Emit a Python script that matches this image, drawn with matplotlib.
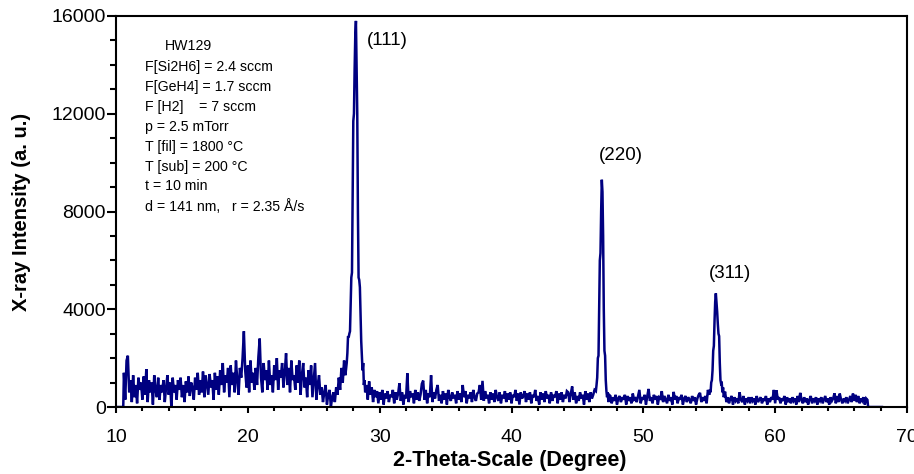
import numpy as np
import matplotlib
matplotlib.use("Agg")
import matplotlib.pyplot as plt
from matplotlib.ticker import MultipleLocator

plt.rcParams['font.family'] = ['Liberation Sans', 'DejaVu Sans']

# ---------------- data ----------------
lead_theta = [10.0, 10.55]
lead_counts = [0, 0]

seg1_start = 10.6   # step 0.1
seg1_counts = [
    1400, 300, 1900, 2100, 600, 1100, 200, 1300, 400, 900,
    150, 1200, 700, 1000, 300, 1250, 500, 1550, 200, 1100,
    600, 1000, 100, 1300, 700, 400, 1200, 300, 900, 600,
    1100, 200, 800, 1300, 500, 1000, 0, 1200, 600, 900,
    300, 1100, 700, 1200, 400, 900, 200, 1050, 600, 1250,
    450, 1000, 800, 300, 1200, 700, 1400, 500, 1100, 600,
    1450, 400, 1300, 900, 500, 1350, 800, 1100, 300, 1400,
    700, 1250, 500, 1500, 900, 1800, 600, 1300, 1000, 1600,
    400, 1700, 900, 1400, 600, 1900, 1100, 500, 1600, 1200,
    2000, 3100, 1500, 800, 1700, 600, 1900, 1000, 1400, 700,
    1600, 900, 2050, 2800, 1200, 600, 1800, 1100, 1500, 700,
    1900, 900, 1300, 600, 1700, 1100, 2000, 700, 1500, 1200,
    1800, 800, 1400, 2200, 900, 1600, 600, 1900, 1100, 1300,
    700, 1700, 1000, 1900, 500, 1300, 1800, 800, 1200, 400,
    1500, 900, 1700, 400, 1100, 1800, 300, 900, 1300, 500,
    800, 200, 600, 900, 100, 500, 700, 0, 400, 600,
    200, 800, 500, 1200, 700, 1600, 1000, 1900, 1300, 1800,
]

peak111_theta = [27.55, 27.60, 27.65, 27.70, 27.75, 27.80, 27.85, 27.90, 27.95,
                 28.00, 28.05, 28.10, 28.15, 28.20, 28.25, 28.30, 28.35, 28.40,
                 28.45, 28.50, 28.55, 28.60, 28.65, 28.70, 28.75, 28.80, 28.85, 28.90]
peak111_counts = [2200, 2900, 2850, 3000, 3100, 4200, 5300, 5500, 8500,
                  11700, 12000, 13800, 15200, 15800, 14000, 12000, 8000, 5300,
                  5200, 4900, 3800, 2700, 2100, 1500, 1800, 900, 1100, 600]

seg2_start = 29.0   # step 0.1
seg2_counts = [
    900, 300, 1050, 500, 800, 200, 700, 400, 650, 150,
    600, 300, 700, 100, 550, 350, 650, 200, 500, 400,
    700, 150, 600, 300, 550, 970, 250, 600, 100, 500,
    350, 1380, 200, 650, 400, 550, 150, 700, 300, 600,
    250, 500, 950, 1080, 300, 700, 150, 550, 400, 1300,
    200, 600, 350, 700, 900, 250, 500, 150, 650, 300,
    550, 100, 700, 400, 250, 600, 350, 500, 150, 650,
    300, 550, 200, 900, 400, 650, 150, 500, 350, 600,
    200, 700, 400, 250, 550, 600, 900, 300, 1070, 250,
    650, 350, 500, 150, 600, 300, 550, 200, 700, 400,
    250, 600, 150, 500, 350, 650, 200, 550, 300, 600,
    150, 500, 400, 700, 250, 550, 100, 600, 350, 450,
    650, 200, 550, 300, 600, 150, 500, 400, 700, 250,
    450, 100, 600, 300, 550, 200, 650, 350, 500, 150,
    600, 250, 500, 400, 650, 150, 550, 300, 600, 200,
    500, 350, 650, 600, 200, 550, 840, 300, 600, 150,
    450, 250, 600, 350, 500, 100, 650, 300, 550, 200,
    600, 350, 500, 700, 650,
]

peak220_theta = [46.45, 46.50, 46.55, 46.60, 46.65, 46.70, 46.75, 46.80, 46.85,
                 46.90, 46.95, 47.00, 47.05, 47.10, 47.15, 47.20, 47.25, 47.30,
                 47.35, 47.40]
peak220_counts = [900, 1200, 2000, 2100, 4000, 6000, 6300, 8000, 9300,
                  8800, 7000, 4000, 2300, 2100, 1100, 650, 400, 600,
                  200, 500]

seg3_start = 47.5   # step 0.1
seg3_counts = [
    450, 150, 400, 250, 500, 100, 350, 450, 200, 400,
    300, 500, 100, 450, 250, 400, 150, 550, 300, 350,
    200, 450, 700, 150, 400, 300, 500, 100, 450, 740,
    250, 400, 150, 500, 300, 450, 100, 400, 350, 650,
    200, 450, 300, 150, 500, 250, 400, 100, 620, 300,
    450, 150, 400, 300, 500, 100, 350, 450, 200, 400,
    300, 150, 450, 250, 400, 100, 350, 500, 580, 200,
    400, 250, 450, 150, 700, 500,
]

peak311_theta = [55.05, 55.10, 55.15, 55.20, 55.25, 55.30, 55.35, 55.40, 55.45,
                 55.50, 55.55, 55.60, 55.65, 55.70, 55.75, 55.80, 55.85, 55.90,
                 55.95, 56.00, 56.05, 56.10]
peak311_counts = [700, 600, 1000, 1100, 1500, 2300, 2500, 3500, 4300,
                  4650, 4300, 3900, 3400, 3000, 2900, 1800, 1100, 950,
                  970, 600, 800, 400]

seg4_start = 56.2   # step 0.1
seg4_counts = [
    630, 200, 400, 150, 350, 450, 100, 400, 250, 350,
    150, 600, 300, 200, 450, 100, 350, 250, 400, 150,
    400, 250, 350, 100, 450, 200, 300, 400, 150, 350,
    250, 450, 100, 350, 200, 400, 300, 700, 150, 680,
    300, 400, 150, 350, 250, 450, 100, 400, 200, 350,
    150, 400, 250, 350, 100, 450, 200, 580, 300, 150,
    400, 200, 350, 100, 300, 450, 150, 350, 250, 400,
    100, 350, 250, 400, 150, 300, 450, 200, 350, 100,
    400, 250, 350, 560, 150, 450, 200, 550, 300, 150,
    350, 250, 400, 150, 300, 450, 200, 550, 250, 500,
    200, 450, 150, 350, 250, 400, 100, 350, 290,
]

tail_theta = [67.05, 68.1]
tail_counts = [0, 0]

step = 0.1
peak_labels = ['(111)', '(220)', '(311)']
peak_label_pos = [(29.0, 15000), (46.65, 10300), (55.0, 5480)]

info_lines = [
    'F[Si2H6] = 2.4 sccm',
    'F[GeH4] = 1.7 sccm',
    'F [H2]    = 7 sccm',
    'p = 2.5 mTorr',
    'T [fil] = 1800 °C',
    'T [sub] = 200 °C',
    't = 10 min',
    'd = 141 nm,   r = 2.35 Å/s',
]
sample_name = 'HW129'

x_ticks = [10, 20, 30, 40, 50, 60, 70]
y_ticks = [0, 4000, 8000, 12000, 16000]


def seg_theta(start, vals):
    return start + step * np.arange(len(vals))


theta = np.concatenate([
    lead_theta,
    seg_theta(seg1_start, seg1_counts), peak111_theta,
    seg_theta(seg2_start, seg2_counts), peak220_theta,
    seg_theta(seg3_start, seg3_counts), peak311_theta,
    seg_theta(seg4_start, seg4_counts), tail_theta,
])
counts = np.concatenate([
    lead_counts, seg1_counts, peak111_counts, seg2_counts, peak220_counts,
    seg3_counts, peak311_counts, seg4_counts, tail_counts,
])

# ---------------- figure ----------------
W, H = 914, 474
fig = plt.figure(figsize=(W / 100, H / 100), dpi=100)
ax = fig.add_axes([116 / W, 1 - 407 / H, (907 - 116) / W, (407 - 16) / H])

ax.plot(theta, counts, color='#000080', lw=1.8, solid_joinstyle='miter')

ax.set_xlim(10, 70)
ax.set_ylim(0, 16000)
ax.set_xticks(x_ticks)
ax.set_yticks(y_ticks)
ax.xaxis.set_minor_locator(MultipleLocator(2))
ax.yaxis.set_minor_locator(MultipleLocator(1000))
ax.tick_params(axis='both', which='both', direction='out', top=False, right=False,
               labelsize=14, width=1.5, color='black')
ax.tick_params(axis='x', which='major', length=4.5, pad=11)
ax.tick_params(axis='x', which='minor', length=3)
ax.tick_params(axis='y', which='major', length=6.3, pad=1)
ax.tick_params(axis='y', which='minor', length=4.3)
for s in ax.spines.values():
    s.set_linewidth(1.5)

ax.set_xlabel('2-Theta-Scale (Degree)', fontsize=15.5, fontweight='bold')
ax.set_ylabel('X-ray Intensity (a. u.)', fontsize=14.5, fontweight='bold')
ax.xaxis.set_label_coords(0.498, -0.11)
ax.yaxis.set_label_coords(-0.108, 0.5)

for lab, (px, py) in zip(peak_labels, peak_label_pos):
    ax.text(px, py, lab, fontsize=13.5, va='center', ha='left')

fig.text(165 / W, 1 - 46 / H, sample_name, fontsize=10.2, va='center', ha='left')
for i, line in enumerate(info_lines):
    fig.text(145 / W, 1 - (67 + 19.9 * i) / H, line, fontsize=10.2, va='center', ha='left')

fig.savefig('out.png', dpi=100)
